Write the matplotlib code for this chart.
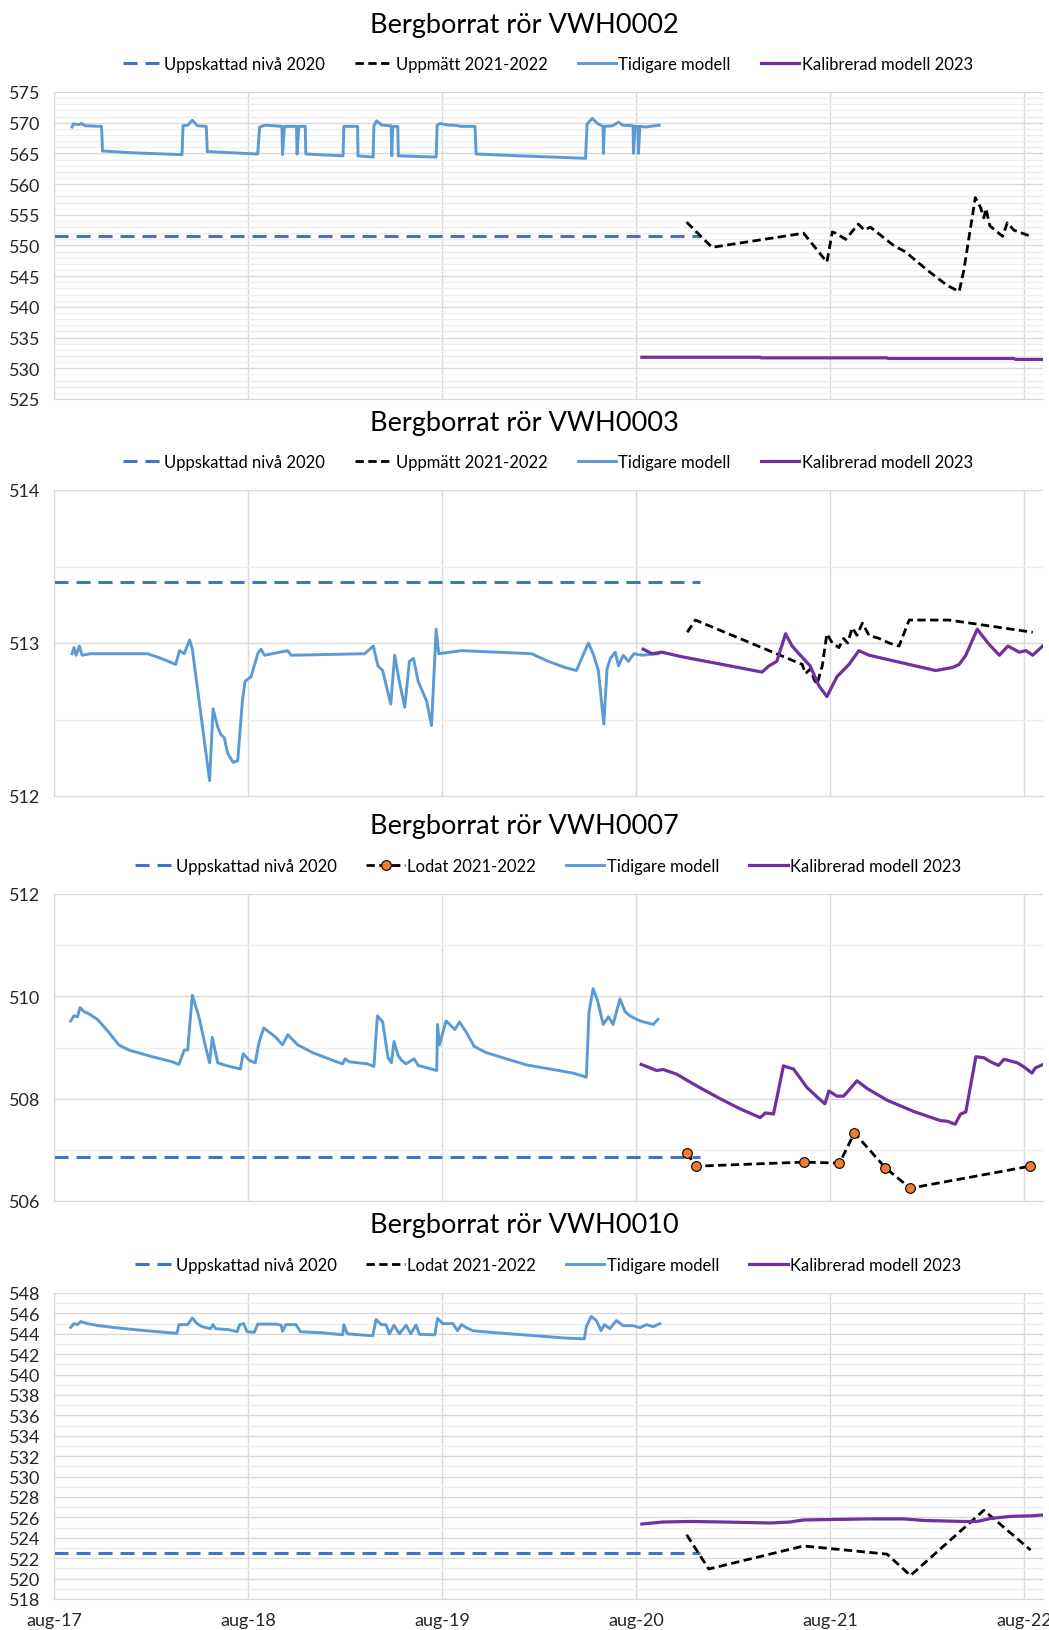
import matplotlib
matplotlib.use("Agg")
import matplotlib.pyplot as plt

plt.rcParams['font.family'] = ['Lato', 'DejaVu Sans']

# x values are years after aug-2017 (0 = aug-17, 1 = aug-18, ...)
x_ticks = [0, 1, 2, 3, 4, 5]
x_labels = ["aug-17", "aug-18", "aug-19", "aug-20", "aug-21", "aug-22"]
x_max = 5.098

titles = ["Bergborrat rör VWH0002", "Bergborrat rör VWH0003",
          "Bergborrat rör VWH0007", "Bergborrat rör VWH0010"]
meas_labels = ["Uppmätt 2021-2022", "Uppmätt 2021-2022", "Lodat 2021-2022", "Lodat 2021-2022"]

# Uppskattad nivå 2020 (constant level)
est_t = [0.0, 3.33]
est_levels = [551.6, 513.40, 506.86, 522.5]

# ---- VWH0002 ----
prev_t_0002 = [0.093, 0.10, 0.13, 0.14, 0.16, 0.245, 0.25, 0.40, 0.66, 0.665, 0.69, 0.713, 0.74, 0.785,
               0.79, 1.05, 1.06, 1.09, 1.175, 1.178, 1.188, 1.25, 1.253, 1.262, 1.295, 1.298, 1.49,
               1.494, 1.565, 1.567, 1.645, 1.649, 1.663, 1.69, 1.738, 1.741, 1.746, 1.772, 1.775, 1.97,
               1.975, 1.99, 2.03, 2.06, 2.1, 2.17, 2.176, 2.4, 2.74, 2.748, 2.775, 2.80, 2.83, 2.832,
               2.837, 2.88, 2.91, 2.93, 2.985, 2.987, 2.995, 3.01, 3.013, 3.02, 3.05, 3.12]
prev_v_0002 = [569.3, 569.8, 569.7, 569.9, 569.5, 569.4, 565.4, 565.1, 564.8, 569.5, 569.6, 570.4, 569.5, 569.4,
               565.3, 564.9, 569.3, 569.6, 569.4, 564.8, 569.4, 569.4, 564.9, 569.4, 569.4, 564.9, 564.6,
               569.4, 569.4, 564.6, 564.4, 569.5, 570.3, 569.6, 569.5, 564.6, 569.4, 569.4, 564.6, 564.4,
               569.6, 569.9, 569.6, 569.6, 569.4, 569.4, 564.9, 564.6, 564.2, 569.8, 570.7, 569.9, 569.4, 565.0,
               569.4, 569.5, 570.1, 569.6, 569.5, 565.0, 569.4, 569.4, 565.0, 569.4, 569.3, 569.6]
meas_t_0002 = [3.261, 3.392, 3.864, 3.984, 4.012, 4.03, 4.081, 4.146, 4.177, 4.208, 4.328, 4.387, 4.501,
               4.604, 4.666, 4.690, 4.749, 4.776, 4.793, 4.804, 4.824, 4.862, 4.890, 4.914, 4.948, 5.034]
meas_v_0002 = [553.8, 549.7, 552.0, 547.3, 552.2, 552.0, 551.0, 553.5, 552.5, 553.0, 550.0, 549.0, 546.0,
               543.5, 542.5, 546.0, 557.8, 556.2, 554.5, 556.0, 553.2, 552.2, 551.5, 553.7, 552.5, 551.5]
cal_t_0002 = [3.03, 3.64, 3.645, 4.294, 4.30, 4.948, 4.955, 5.10]
cal_v_0002 = [531.8, 531.8, 531.7, 531.7, 531.6, 531.6, 531.45, 531.45]

# ---- VWH0003 ----
prev_t_0003 = [0.093, 0.103, 0.114, 0.131, 0.145, 0.189, 0.482, 0.551, 0.627, 0.647, 0.671, 0.699, 0.713,
               0.802, 0.820, 0.844, 0.861, 0.878, 0.895, 0.923, 0.947, 0.971, 0.985, 1.016, 1.050, 1.067,
               1.085, 1.205, 1.222, 1.601, 1.646, 1.670, 1.694, 1.736, 1.756, 1.780, 1.808, 1.832, 1.853,
               1.877, 1.921, 1.946, 1.970, 1.983, 2.101, 2.462, 2.548, 2.634, 2.693, 2.737, 2.755, 2.782,
               2.806, 2.834, 2.851, 2.868, 2.893, 2.910, 2.934, 2.961, 2.989, 3.030, 3.116]
prev_v_0003 = [512.93, 512.97, 512.92, 512.98, 512.92, 512.93, 512.93, 512.90, 512.86, 512.95, 512.93, 513.02, 512.96,
               512.10, 512.57, 512.45, 512.40, 512.38, 512.28, 512.22, 512.23, 512.62, 512.75, 512.78, 512.93, 512.96,
               512.92, 512.95, 512.92, 512.93, 512.98, 512.85, 512.82, 512.60, 512.92, 512.75, 512.58, 512.88, 512.90,
               512.75, 512.62, 512.46, 513.09, 512.93, 512.95, 512.93, 512.88, 512.84, 512.82, 512.95, 513.00, 512.92,
               512.82, 512.47, 512.83, 512.90, 512.94, 512.85, 512.92, 512.88, 512.93, 512.92, 512.93]
meas_t_0003 = [3.264, 3.306, 3.857, 3.874, 3.898, 3.919, 3.933, 3.960, 3.984, 4.012, 4.046, 4.070, 4.091,
               4.115, 4.139, 4.167, 4.201, 4.253, 4.304, 4.356, 4.408, 4.614, 5.045]
meas_v_0003 = [513.07, 513.15, 512.86, 512.80, 512.83, 512.76, 512.73, 512.85, 513.06, 513.00, 512.97, 513.03, 513.00,
               513.10, 513.05, 513.13, 513.05, 513.03, 513.00, 512.98, 513.15, 513.15, 513.07]
cal_t_0003 = [3.037, 3.082, 3.134, 3.168, 3.237, 3.444, 3.650, 3.685, 3.726, 3.771, 3.805, 3.840, 3.898,
              3.943, 3.984, 4.036, 4.098, 4.149, 4.201, 4.545, 4.632, 4.666, 4.700, 4.759, 4.814, 4.873,
              4.917, 4.976, 5.010, 5.045, 5.096]
cal_v_0003 = [512.96, 512.93, 512.94, 512.93, 512.91, 512.86, 512.81, 512.85, 512.88, 513.06, 512.98, 512.93, 512.85,
              512.72, 512.65, 512.78, 512.86, 512.95, 512.92, 512.82, 512.84, 512.86, 512.92, 513.09, 513.00, 512.92,
              512.98, 512.94, 512.95, 512.92, 512.98]

# ---- VWH0007 ----
prev_t_0007 = [0.086, 0.103, 0.121, 0.134, 0.155, 0.179, 0.224, 0.282, 0.334, 0.386, 0.506, 0.610, 0.644,
               0.671, 0.689, 0.713, 0.747, 0.782, 0.802, 0.816, 0.844, 0.885, 0.961, 0.975, 1.006, 1.037,
               1.057, 1.081, 1.109, 1.143, 1.178, 1.205, 1.257, 1.333, 1.436, 1.488, 1.501, 1.522, 1.615,
               1.649, 1.667, 1.694, 1.722, 1.739, 1.753, 1.773, 1.791, 1.815, 1.856, 1.877, 1.973, 1.977,
               1.987, 2.021, 2.066, 2.090, 2.125, 2.166, 2.228, 2.331, 2.435, 2.676, 2.744, 2.758, 2.779,
               2.803, 2.831, 2.858, 2.882, 2.917, 2.944, 2.968, 3.020, 3.089, 3.113]
prev_v_0007 = [509.52, 509.62, 509.60, 509.78, 509.70, 509.66, 509.55, 509.30, 509.05, 508.95, 508.82, 508.72, 508.67,
               508.95, 508.95, 510.02, 509.60, 509.00, 508.70, 509.20, 508.70, 508.65, 508.58, 508.88, 508.75, 508.70,
               509.10, 509.38, 509.30, 509.20, 509.05, 509.25, 509.05, 508.90, 508.75, 508.68, 508.78, 508.72, 508.68,
               508.63, 509.62, 509.50, 508.80, 508.70, 509.12, 508.85, 508.75, 508.68, 508.78, 508.65, 508.55, 509.45,
               509.05, 509.52, 509.35, 509.50, 509.30, 509.02, 508.90, 508.78, 508.66, 508.50, 508.42, 509.70, 510.15,
               509.90, 509.45, 509.60, 509.45, 509.95, 509.70, 509.62, 509.52, 509.45, 509.55]
meas_t_0007 = [3.262, 3.308, 3.864, 4.049, 4.126, 4.285, 4.414, 5.031]
meas_v_0007 = [506.94, 506.68, 506.76, 506.74, 507.33, 506.65, 506.25, 506.68]
cal_t_0007 = [3.027, 3.106, 3.140, 3.209, 3.313, 3.433, 3.537, 3.640, 3.667, 3.709, 3.760, 3.812, 3.881,
              3.943, 3.974, 3.994, 4.036, 4.070, 4.094, 4.139, 4.191, 4.294, 4.432, 4.570, 4.604, 4.645,
              4.673, 4.700, 4.752, 4.793, 4.828, 4.869, 4.897, 4.966, 5.000, 5.041, 5.058, 5.093]
cal_v_0007 = [508.67, 508.55, 508.57, 508.48, 508.25, 508.00, 507.80, 507.63, 507.72, 507.70, 508.64, 508.58, 508.22,
              508.00, 507.90, 508.15, 508.05, 508.05, 508.15, 508.35, 508.20, 507.97, 507.75, 507.57, 507.56, 507.50,
              507.70, 507.74, 508.82, 508.80, 508.72, 508.65, 508.77, 508.70, 508.62, 508.50, 508.60, 508.66]

# ---- VWH0010 ----
prev_t_0010 = [0.086, 0.103, 0.121, 0.138, 0.172, 0.231, 0.317, 0.420, 0.523, 0.634, 0.644, 0.689, 0.713,
               0.737, 0.764, 0.806, 0.820, 0.833, 0.902, 0.944, 0.957, 0.978, 0.995, 1.033, 1.050, 1.143,
               1.171, 1.178, 1.195, 1.247, 1.271, 1.384, 1.488, 1.494, 1.512, 1.643, 1.660, 1.687, 1.711,
               1.729, 1.753, 1.780, 1.815, 1.839, 1.866, 1.884, 1.963, 1.977, 2.004, 2.056, 2.080, 2.101,
               2.125, 2.159, 2.280, 2.452, 2.624, 2.734, 2.744, 2.769, 2.796, 2.820, 2.837, 2.865, 2.899,
               2.934, 2.986, 3.020, 3.054, 3.089, 3.123]
prev_v_0010 = [544.63, 545.00, 544.90, 545.20, 545.00, 544.80, 544.60, 544.40, 544.22, 544.05, 544.90, 544.90, 545.55,
               545.00, 544.70, 544.50, 544.90, 544.50, 544.40, 544.20, 544.90, 545.00, 544.20, 544.15, 544.95, 544.95,
               544.85, 544.25, 544.90, 544.90, 544.20, 544.10, 543.90, 544.90, 544.00, 543.80, 545.40, 544.90, 544.90,
               544.00, 544.85, 544.00, 544.85, 544.00, 544.85, 543.95, 543.90, 545.50, 545.00, 545.00, 544.30, 544.90,
               544.60, 544.30, 544.10, 543.85, 543.60, 543.50, 544.70, 545.70, 545.30, 544.30, 544.90, 544.50, 545.30,
               544.80, 544.80, 544.60, 544.90, 544.70, 545.00]
meas_t_0010 = [3.261, 3.375, 3.864, 4.294, 4.415, 4.793, 5.034]
meas_v_0010 = [524.30, 520.94, 523.20, 522.40, 520.30, 526.70, 522.80]
cal_t_0010 = [3.030, 3.140, 3.278, 3.450, 3.691, 3.795, 3.864, 4.036, 4.208, 4.380, 4.483, 4.690, 4.759,
              4.828, 4.931, 5.034, 5.103]
cal_v_0010 = [525.35, 525.55, 525.60, 525.55, 525.45, 525.55, 525.75, 525.80, 525.85, 525.85, 525.70, 525.60, 525.60,
              525.90, 526.10, 526.15, 526.25]

panels = [
    dict(prev=(prev_t_0002, prev_v_0002), meas=(meas_t_0002, meas_v_0002), cal=(cal_t_0002, cal_v_0002),
         ylim=(525, 575), major=5, minor=1, markers=False),
    dict(prev=(prev_t_0003, prev_v_0003), meas=(meas_t_0003, meas_v_0003), cal=(cal_t_0003, cal_v_0003),
         ylim=(512, 514), major=1, minor=0.5, markers=False),
    dict(prev=(prev_t_0007, prev_v_0007), meas=(meas_t_0007, meas_v_0007), cal=(cal_t_0007, cal_v_0007),
         ylim=(506, 512), major=2, minor=1, markers=True),
    dict(prev=(prev_t_0010, prev_v_0010), meas=(meas_t_0010, meas_v_0010), cal=(cal_t_0010, cal_v_0010),
         ylim=(518, 548), major=2, minor=1, markers=False),
]

W, H = 1049, 1631
fig = plt.figure(figsize=(W / 100, H / 100), dpi=100)

# pixel rows of each plot area (top, bottom)
rows = [(93, 400), (491, 797), (895, 1202), (1294, 1600)]
left, right = 54, 1043

for i, p in enumerate(panels):
    top, bot = rows[i]
    ax = fig.add_axes([left / W, 1 - bot / H, (right - left) / W, (bot - top) / H])

    ax.plot(est_t, [est_levels[i]] * 2, color='#4472C4', lw=2.2, ls=(0, (4.6, 2.6)),
            label="Uppskattad nivå 2020")
    if p['markers']:
        ax.plot(*p['meas'], color='black', lw=2.0, ls=(0, (3, 1.6)), marker='o', ms=7,
                mfc='#ED7D31', mec='black', mew=0.8, label=meas_labels[i])
    else:
        ax.plot(*p['meas'], color='black', lw=2.0, ls=(0, (3, 1.6)), label=meas_labels[i])
    ax.plot(*p['prev'], color='#5B9BD5', lw=2.1, label="Tidigare modell")
    ax.plot(*p['cal'], color='#7030A0', lw=2.3, label="Kalibrerad modell 2023")

    lo, hi = p['ylim']
    ax.set_ylim(lo, hi)
    ax.set_xlim(0, x_max)
    n_major = int(round((hi - lo) / p['major']))
    ax.set_yticks([lo + k * p['major'] for k in range(n_major + 1)])
    n_minor = int(round((hi - lo) / p['minor']))
    ax.set_yticks([lo + k * p['minor'] for k in range(n_minor + 1)], minor=True)
    ax.set_xticks(x_ticks)
    ax.grid(True, which='major', color='#D9D9D9', lw=1.0)
    ax.grid(True, which='minor', axis='y', color='#EEEEEE', lw=1.0)
    ax.set_axisbelow(True)
    ax.tick_params(which='both', length=0, labelsize=13, colors='#262626')
    ax.tick_params(axis='y', pad=10)
    ax.tick_params(axis='x', pad=9.5)
    if i == 3:
        ax.set_xticklabels(x_labels)
    else:
        ax.set_xticklabels([])
    for s in ['top', 'right']:
        ax.spines[s].set_visible(False)
    for s in ['left', 'bottom']:
        ax.spines[s].set_color('#D9D9D9')

    fig.text(0.5, 1 - (top - 68) / H, titles[i], ha='center', va='center', fontsize=19.5, color='black')
    ax.legend(loc='center', bbox_to_anchor=(548 / W, 1 - (top - 28) / H), bbox_transform=fig.transFigure,
              ncol=4, frameon=False, fontsize=12, handlelength=2.3, handletextpad=0.15,
              columnspacing=1.8, numpoints=1)

fig.savefig("out.png", dpi=100)
